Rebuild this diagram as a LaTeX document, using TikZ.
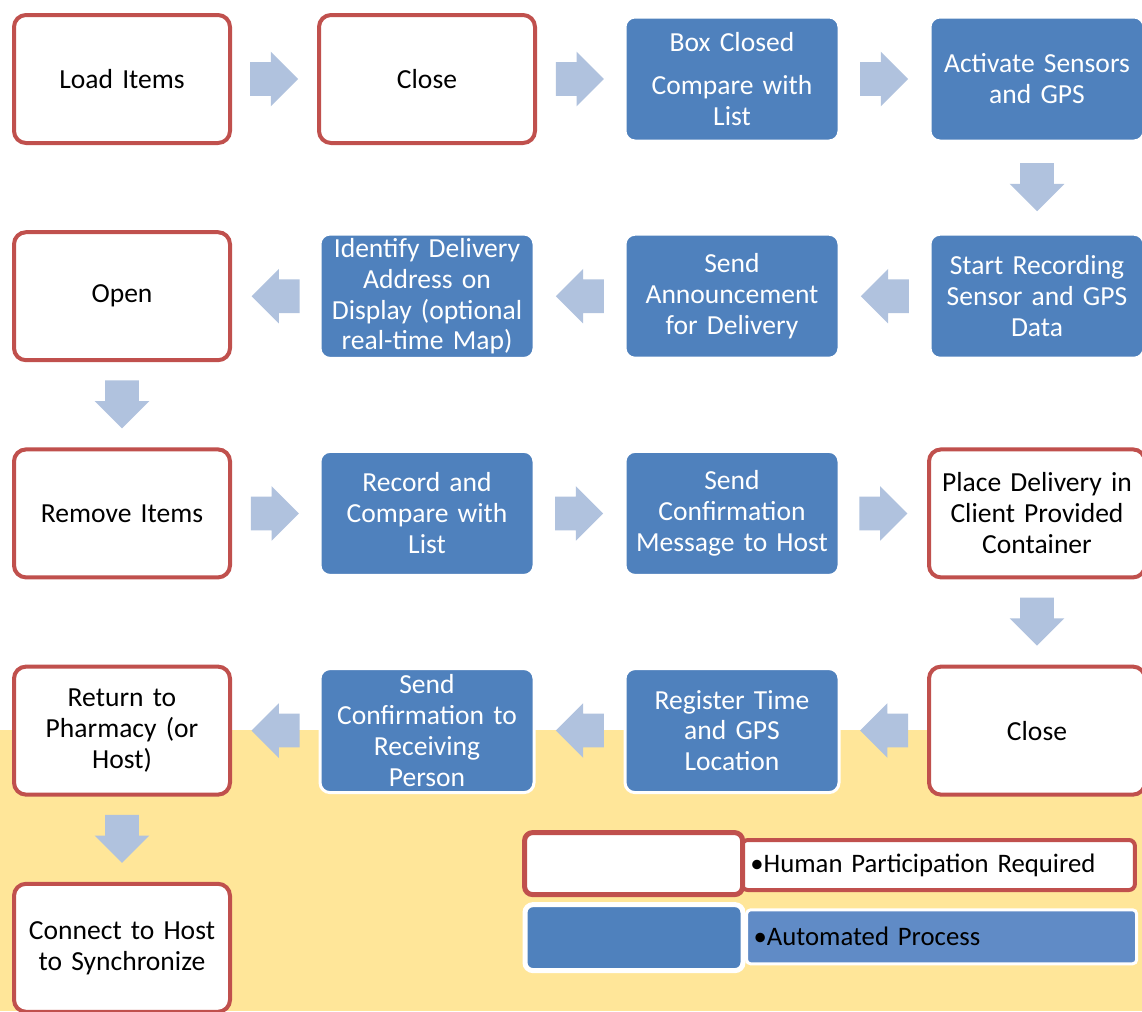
\documentclass[tikz,border=0pt]{standalone}
\usepackage{fontspec}
\setmainfont{Carlito}
\usetikzlibrary{positioning}
\usetikzlibrary{shapes.arrows}
\definecolor{humanred}{RGB}{192,80,77}
\definecolor{autoblue}{RGB}{79,129,189}
\definecolor{legendblue}{RGB}{96,139,198}
\definecolor{flowblue}{RGB}{176,194,222}
\definecolor{bgyellow}{RGB}{255,230,153}
\tikzset{
  % style for a step that needs a person
  human/.style={draw=humanred,fill=white,line width=0.1cm,rounded corners=0.3cm,
    minimum width=5.4cm,minimum height=3.2cm,inner sep=0.1cm,
    text width=5.1cm,align=center,font=\fontsize{19.6}{22}\selectfont},
  % style for a step done by the box itself
  machine/.style={draw=white,fill=autoblue,line width=0.075cm,rounded corners=0.25cm,
    minimum width=5.35cm,minimum height=3.1cm,inner sep=0.1cm,text=white,
    text width=5.1cm,align=center,font=\fontsize{19.6}{22}\selectfont},
  % style for the block arrow between two steps
  flow/.style={single arrow,fill=flowblue,draw=none,inner xsep=0pt,inner ysep=0.415cm,
    minimum height=1.2cm,single arrow head extend=0.26cm,
    shape border rotate=#1,shift={(#1+180:0.22cm)}},
  % same arrow turned downwards
  flow down/.style={single arrow,fill=flowblue,draw=none,inner ysep=0pt,inner xsep=0.415cm,
    minimum height=1.2cm,single arrow head extend=0.26cm,
    shape border rotate=270,shift={(90:0.22cm)}},
}

\begin{document}
\begin{tikzpicture}[node distance=5.43cm and 7.625cm,on grid]
\useasboundingbox (0,0) rectangle (28.55,-25.275);
\begin{scope}
  \fill[white] (0,0) rectangle (28.55,-18.25);
  \fill[bgyellow] (0,-18.25) rectangle (28.55,-25.275);
\end{scope}
% row 1
\node[human] (LI) at (3.05,-1.975) {Load Items};
\node[human,right=of LI] (CL) {Close};
\node[machine,right=of CL] (BC) {Box Closed\\[0.3cm]Compare with\\List};
\node[machine,right=of BC] (AS) {Activate Sensors\\and GPS};
% row 2
\node[machine,below=of AS] (SR) {Start Recording\\Sensor and GPS\\Data};
\node[machine,left=of SR] (SA) {Send\\Announcement\\for Delivery};
\node[machine,left=of SA] (ID) {Identify Delivery\\Address on\\Display (optional\\real-time Map)};
\node[human,left=of ID] (OP) {Open};
% row 3
\node[human,below=of OP] (RI) {Remove Items};
\node[machine,right=of RI] (RC) {Record and\\Compare with\\List};
\node[machine,right=of RC] (SC) {Send\\Confirmation\\Message to Host};
\node[human,right=of SC] (PD) {Place Delivery in\\Client Provided\\Container};
% row 4
\node[human,below=of PD] (CC) {Close};
\node[machine,left=of CC] (RT) {Register Time\\and GPS\\Location};
\node[machine,left=of RT] (SP) {Send\\Confirmation to\\Receiving\\Person};
\node[human,left=of SP] (RP) {Return to\\Pharmacy (or\\Host)};
% row 5
\node[human,below=of RP] (CH) {Connect to Host\\to Synchronize};

\path (LI) -- node[flow=0]{} (CL);
\path (CL) -- node[flow=0]{} (BC);
\path (BC) -- node[flow=0]{} (AS);
\path (AS) -- node[flow down]{} (SR);
\path (SR) -- node[flow=180]{} (SA);
\path (SA) -- node[flow=180]{} (ID);
\path (ID) -- node[flow=180]{} (OP);
\path (OP) -- node[flow down]{} (RI);
\path (RI) -- node[flow=0]{} (RC);
\path (RC) -- node[flow=0]{} (SC);
\path (SC) -- node[flow=0]{} (PD);
\path (PD) -- node[flow down]{} (CC);
\path (CC) -- node[flow=180]{} (RT);
\path (RT) -- node[flow=180]{} (SP);
\path (SP) -- node[flow=180]{} (RP);
\path (RP) -- node[flow down]{} (CH);

% legend
\node[human,minimum width=9.825cm,minimum height=1.25cm,text width=9.4cm,
  align=left,rounded corners=0.15cm,font=\fontsize{19}{22}\selectfont]
  (HT) at (23.46,-21.625) {\textbullet Human Participation Required};
\node[human,line width=0.125cm,minimum width=5.45cm,minimum height=1.55cm,
  text width=5cm,rounded corners=0.2cm] (HK) at (15.84,-21.59) {};
\node[machine,fill=legendblue,minimum width=9.75cm,minimum height=1.35cm,
  text width=9.4cm,align=left,text=black,rounded corners=0.1cm,
  font=\fontsize{19}{22}\selectfont]
  (AT) at (23.54,-23.42) {\textbullet Automated Process};
\node[machine,line width=0.125cm,minimum width=5.45cm,minimum height=1.65cm,
  text width=5cm,rounded corners=0.2cm] (AK) at (15.85,-23.44) {};
\end{tikzpicture}
\end{document}
